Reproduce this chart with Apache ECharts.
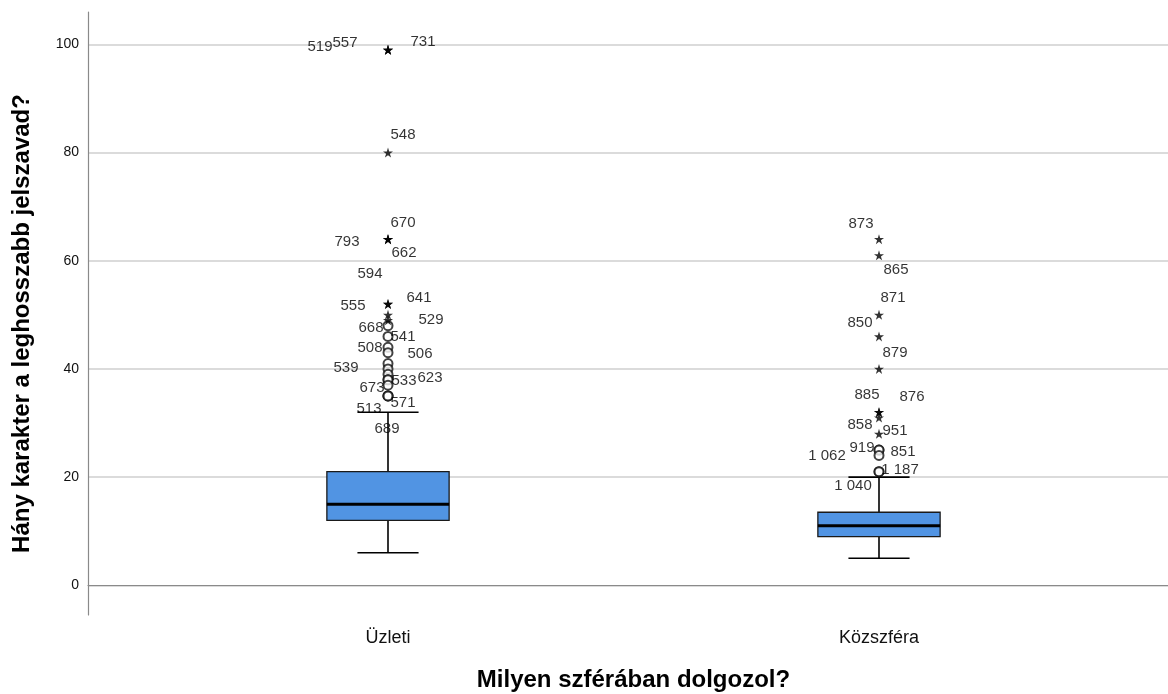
<!DOCTYPE html>
<html>
<head>
<meta charset="utf-8">
<script src="https://cdn.jsdelivr.net/npm/echarts@6/dist/echarts.min.js"></script>
<style>
  html, body { margin: 0; padding: 0; background: #fff; }
  #chart { width: 1168px; height: 694px; }
</style>
</head>
<body>
<div id="chart"></div>
<script>
// Categories and box statistics (low whisker, Q1, median, Q3, high whisker)
const categories = ['Üzleti', 'Közszféra'];
const boxLow = [6, 5];
const boxQ1 = [12, 9];
const boxMedian = [15, 11];
const boxQ3 = [21, 13.5];
const boxHigh = [32, 20];

// Outlying cases: value and case number, per category
const uzletiOutlierValues = [99, 99, 99, 80, 64, 64, 64, 52, 52, 50, 49, 48, 46, 44, 43, 41, 40, 39, 38, 38, 37, 35, 35, 35];
const uzletiOutlierCases  = ['519', '557', '731', '548', '670', '793', '662', '594', '641', '555', '529', '668', '541', '508', '506', '', '539', '', '533', '623', '673', '571', '513', '689'];
const kozOutlierValues = [64, 61, 50, 46, 40, 32, 32, 31, 28, 25, 25, 24, 21, 21];
const kozOutlierCases  = ['873', '865', '871', '850', '879', '885', '876', '858', '951', '919', '851', '1 062', '1 187', '1 040'];

// Where each case-number label sits relative to its point (px)
const uzletiLabelOffsets = [[-68, -3], [-43, -7], [35, -8], [15, -18], [15, -16], [-41, 3], [16, 14], [-18, -30], [31, -6], [-35, -9], [43, 0], [-17, 2], [15, 0], [-18, 1], [32, 1], [0, 0], [-42, -1], [0, 0], [16, 1], [42, -2], [-16, 3], [15, 7], [-19, 13], [-1, 33]];
const kozLabelOffsets = [[-18, -15], [17, 14], [14, -17], [-19, -14], [16, -16], [-12, -17], [33, -15], [-19, 7], [16, -3], [-17, -2], [24, 2], [-52, 0], [21, -2], [-26, 14]];

const Y_MIN = -5.5, Y_MAX = 106;
const FONT = 'Liberation Sans, Arial, sans-serif';
const STAR = 'path://M50,0 L61.2,34.5 L97.6,34.5 L68.2,55.9 L79.4,90.5 L50,69.1 L20.6,90.5 L31.8,55.9 L2.4,34.5 L38.8,34.5 Z';

// Extreme cases (beyond 3 IQR) get a star, the rest an open circle
function buildPoints(catIdx, values, cases, offsets, extreme) {
  const out = [];
  const fence = boxQ3[catIdx] + 3 * (boxQ3[catIdx] - boxQ1[catIdx]);
  values.forEach((v, i) => {
    if ((v > fence) !== extreme) return;
    out.push({
      value: [catIdx, v],
      name: cases[i],
      label: { show: cases[i] !== '', offset: offsets[i] }
    });
  });
  return out;
}

const starData = [].concat(
  buildPoints(0, uzletiOutlierValues, uzletiOutlierCases, uzletiLabelOffsets, true),
  buildPoints(1, kozOutlierValues, kozOutlierCases, kozLabelOffsets, true)
);
const circleData = [].concat(
  buildPoints(0, uzletiOutlierValues, uzletiOutlierCases, uzletiLabelOffsets, false),
  buildPoints(1, kozOutlierValues, kozOutlierCases, kozLabelOffsets, false)
);

const boxData = categories.map((c, i) => [i, boxLow[i], boxQ1[i], boxMedian[i], boxQ3[i], boxHigh[i]]);

const caseLabel = {
  show: true,
  position: 'inside',
  formatter: '{b}',
  color: '#000',
  textBorderWidth: 0,
  fontFamily: FONT,
  fontSize: 15
};

const titleStyle = { fontFamily: FONT, fontSize: 24, fontWeight: 'bold', color: '#000' };

const chart = echarts.init(document.getElementById('chart'), null, { renderer: 'canvas' });
chart.setOption({
  animation: false,
  backgroundColor: '#fff',
  grid: [
    { left: 88, right: 0, top: 12, bottom: 79, outerBoundsMode: 'none' },
    { left: 142.5, right: 43.5, top: 12, bottom: 79, outerBoundsMode: 'none' }
  ],
  xAxis: [
    {
      gridIndex: 0, type: 'value', min: 0, max: 1,
      axisLine: { show: true, lineStyle: { color: '#8a8a8a', width: 1.2 } },
      axisTick: { show: false }, axisLabel: { show: false }, splitLine: { show: false }
    },
    {
      gridIndex: 1, type: 'category', data: categories, boundaryGap: true,
      axisLine: { show: false }, axisTick: { show: false }, splitLine: { show: false },
      axisLabel: { margin: 14, fontFamily: FONT, fontSize: 18, color: '#111' },
      name: 'Milyen szférában dolgozol?', nameLocation: 'middle', nameGap: 53,
      nameTextStyle: titleStyle
    }
  ],
  yAxis: [
    {
      gridIndex: 0, type: 'value', min: Y_MIN, max: Y_MAX,
      axisLine: { show: true, lineStyle: { color: '#8a8a8a', width: 1.2 } },
      axisTick: { show: false },
      axisLabel: { margin: 9, fontFamily: FONT, fontSize: 14, color: '#111', showMinLabel: false, showMaxLabel: false },
      splitLine: { show: true, showMinLine: false, showMaxLine: false, lineStyle: { color: '#cfcfcf', width: 1.5 } },
      name: 'Hány karakter a leghosszabb jelszavad?', nameLocation: 'middle', nameGap: 54, nameRotate: 90,
      nameTextStyle: Object.assign({}, titleStyle, { padding: [0, 20, 0, 0] })
    },
    {
      gridIndex: 1, type: 'value', min: Y_MIN, max: Y_MAX, show: false,
      splitLine: { show: false }
    }
  ],
  series: [
    {
      type: 'custom',
      xAxisIndex: 1, yAxisIndex: 1,
      data: boxData,
      z: 3,
      renderItem: function (params, api) {
        const c = api.value(0);
        const lo = api.coord([c, api.value(1)]);
        const q1 = api.coord([c, api.value(2)]);
        const md = api.coord([c, api.value(3)]);
        const q3 = api.coord([c, api.value(4)]);
        const hi = api.coord([c, api.value(5)]);
        const band = api.size([1, 0])[0];
        const bw = band * 0.249;
        const cw = bw / 2;
        const x = lo[0];
        const stroke = { stroke: '#000', lineWidth: 1.6 };
        return {
          type: 'group',
          children: [
            { type: 'line', shape: { x1: x, y1: lo[1], x2: x, y2: q1[1] }, style: stroke },
            { type: 'line', shape: { x1: x, y1: q3[1], x2: x, y2: hi[1] }, style: stroke },
            { type: 'line', shape: { x1: x - cw / 2, y1: lo[1], x2: x + cw / 2, y2: lo[1] }, style: stroke },
            { type: 'line', shape: { x1: x - cw / 2, y1: hi[1], x2: x + cw / 2, y2: hi[1] }, style: stroke },
            { type: 'rect', shape: { x: x - bw / 2, y: q3[1], width: bw, height: q1[1] - q3[1] },
              style: { fill: '#5194e3', stroke: '#1a1a1a', lineWidth: 1.3 } },
            { type: 'line', shape: { x1: x - bw / 2, y1: md[1], x2: x + bw / 2, y2: md[1] },
              style: { stroke: '#000', lineWidth: 3 } }
          ]
        };
      }
    },
    {
      type: 'scatter',
      xAxisIndex: 1, yAxisIndex: 1,
      symbol: 'emptyCircle',
      symbolSize: 9,
      itemStyle: { color: '#111', borderWidth: 1.4 },
      label: caseLabel,
      data: circleData,
      z: 4
    },
    {
      type: 'scatter',
      xAxisIndex: 1, yAxisIndex: 1,
      symbol: STAR,
      symbolSize: 10,
      itemStyle: { color: '#000' },
      label: caseLabel,
      data: starData,
      z: 5
    }
  ]
});
</script>
</body>
</html>
